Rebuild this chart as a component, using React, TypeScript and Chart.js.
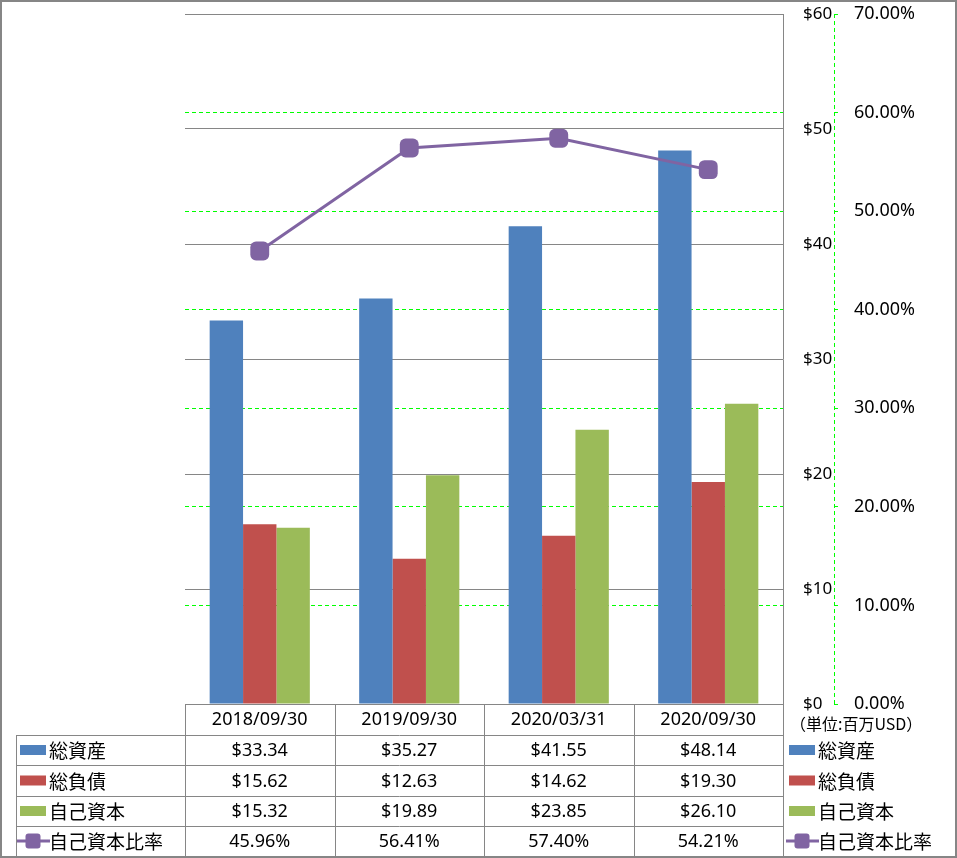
import React, { useEffect, useRef } from "react";
import { Chart, registerables } from "chart.js";

Chart.register(...registerables);

const categories = ["2018/09/30", "2019/09/30", "2020/03/31", "2020/09/30"];
const totalAssets = [33.34, 35.27, 41.55, 48.14];
const totalLiabilities = [15.62, 12.63, 14.62, 19.3];
const equity = [15.32, 19.89, 23.85, 26.1];
const equityRatio = [45.96, 56.41, 57.4, 54.21];
const seriesNames = ["総資産", "総負債", "自己資本", "自己資本比率"];
const unitLabel = "（単位:百万USD）";

const BLUE = "#4F81BD";
const RED = "#C0504D";
const GREEN = "#9BBB59";
const PURPLE = "#8064A2";
const GRID = "#868686";
const LIME = "#00FF00";
const NUM_FAMILY = '"Noto Sans", "Open Sans", sans-serif';
const NUM_FONT = '18px ' + NUM_FAMILY;
const JP_FONT = '19px "Noto Sans CJK JP", sans-serif';

function drawSymbol(ctx: CanvasRenderingContext2D, kind: number, x: number, y: number, w: number) {
  const colors = [BLUE, RED, GREEN, PURPLE];
  ctx.save();
  if (kind < 3) {
    ctx.fillStyle = colors[kind];
    ctx.fillRect(x, y - 5, w, 10);
  } else {
    ctx.strokeStyle = PURPLE;
    ctx.lineWidth = 3;
    ctx.beginPath();
    ctx.moveTo(x - 3, y);
    ctx.lineTo(x + w + 4, y);
    ctx.stroke();
    ctx.fillStyle = PURPLE;
    const s = 15;
    const cx = x + w / 2;
    ctx.beginPath();
    (ctx as any).roundRect(cx - s / 2, y - s / 2, s, s, 3);
    ctx.fill();
  }
  ctx.restore();
}

const tablePlugin = {
  id: "tablePlugin",
  afterDraw(chart: any) {
    const ctx: CanvasRenderingContext2D = chart.ctx;
    const area = chart.chartArea;
    const xs = chart.scales.x;
    const n = categories.length;
    const colW = (area.right - area.left) / n;
    const rows = [area.bottom, 735, 765, 796, 826, 856];
    const tableLeft = 16;

    ctx.save();
    const y2 = chart.scales.y2;
    ctx.strokeStyle = LIME;
    ctx.lineWidth = 1;
    ctx.setLineDash([4, 3]);
    ctx.beginPath();
    ctx.moveTo(y2.left + 0.5, area.top);
    ctx.lineTo(y2.left + 0.5, area.bottom);
    ctx.stroke();
    ctx.setLineDash([]);

    ctx.strokeStyle = GRID;
    ctx.lineWidth = 1;
    ctx.beginPath();
    ctx.moveTo(area.left, rows[0] + 0.5);
    ctx.lineTo(area.right, rows[0] + 0.5);
    for (let r = 1; r < rows.length; r++) {
      ctx.moveTo(tableLeft, rows[r] + 0.5);
      ctx.lineTo(area.right, rows[r] + 0.5);
    }
    ctx.moveTo(tableLeft + 0.5, rows[1]);
    ctx.lineTo(tableLeft + 0.5, rows[rows.length - 1]);
    for (let c = 0; c <= n; c++) {
      const x = Math.round(area.left + c * colW) + 0.5;
      ctx.moveTo(x, rows[0]);
      ctx.lineTo(x, rows[rows.length - 1]);
    }
    ctx.stroke();

    ctx.fillStyle = "#000";
    ctx.textAlign = "center";
    ctx.textBaseline = "middle";
    ctx.font = NUM_FONT;
    categories.forEach((c, i) => {
      ctx.fillText(c, xs.getPixelForValue(i), (rows[0] + rows[1]) / 2);
    });

    const rowsData = [totalAssets, totalLiabilities, equity, equityRatio];
    rowsData.forEach((arr, r) => {
      const cy = (rows[r + 1] + rows[r + 2]) / 2;
      ctx.font = NUM_FONT;
      ctx.textAlign = "center";
      ctx.fillStyle = "#000";
      arr.forEach((v, i) => {
        const txt = r < 3 ? "$" + v.toFixed(2) : v.toFixed(2) + "%";
        ctx.fillText(txt, xs.getPixelForValue(i), cy + 1);
      });
      drawSymbol(ctx, r, 20, cy, 26);
      ctx.font = JP_FONT;
      ctx.textAlign = "left";
      ctx.fillStyle = "#000";
      ctx.fillText(seriesNames[r], 49, cy + 1);
      drawSymbol(ctx, r, 789, cy, 26);
      ctx.font = JP_FONT;
      ctx.fillStyle = "#000";
      ctx.fillText(seriesNames[r], 818, cy + 1);
    });

    ctx.font = '16px "Noto Sans CJK JP", sans-serif';
    ctx.textAlign = "left";
    ctx.fillText(unitLabel, 790, 724);

    ctx.strokeStyle = GRID;
    ctx.lineWidth = 2;
    ctx.strokeRect(1, 1, chart.width - 2, chart.height - 2);
    ctx.restore();
  },
};

export default function App() {
  const ref = useRef<HTMLCanvasElement>(null);
  useEffect(() => {
    if (!ref.current) return;
    const chart = new Chart(ref.current, {
      type: "bar",
      data: {
        labels: categories,
        datasets: [
          {
            type: "line",
            label: seriesNames[3],
            data: equityRatio,
            yAxisID: "y2",
            borderColor: PURPLE,
            backgroundColor: PURPLE,
            borderWidth: 3,
            pointStyle: "rectRounded",
            pointRadius: 11,
            pointBackgroundColor: PURPLE,
            pointBorderColor: PURPLE,
            pointBorderWidth: 0,
            order: 0,
          } as any,
          { label: seriesNames[0], data: totalAssets, backgroundColor: BLUE, yAxisID: "y", order: 1 },
          { label: seriesNames[1], data: totalLiabilities, backgroundColor: RED, yAxisID: "y", order: 1 },
          { label: seriesNames[2], data: equity, backgroundColor: GREEN, yAxisID: "y", order: 1 },
        ],
      },
      options: {
        animation: false,
        responsive: false,
        maintainAspectRatio: false,
        layout: { padding: { left: 185, top: 14, right: 0, bottom: 154 } },
        datasets: { bar: { categoryPercentage: 0.67, barPercentage: 1 } } as any,
        plugins: { legend: { display: false }, tooltip: { enabled: false } },
        scales: {
          x: { display: false },
          y: {
            position: "right",
            min: 0,
            max: 60,
            ticks: {
              stepSize: 10,
              padding: 20,
              crossAlign: "near",
              color: "#000",
              font: { family: NUM_FAMILY, size: 17 },
              callback: (v: any) => "$" + v,
            },
            grid: { color: GRID, lineWidth: 1, drawTicks: false },
            border: { display: true, color: GRID, width: 1 },
            afterFit: (s: any) => {
              s.width = 51;
              s.paddingTop = 0;
              s.paddingBottom = 0;
            },
          },
          y2: {
            position: "right",
            min: 0,
            max: 70,
            ticks: {
              stepSize: 10,
              padding: 16,
              color: "#000",
              font: { family: NUM_FAMILY, size: 18 },
              callback: (v: any) => Number(v).toFixed(2) + "%",
            },
            grid: {
              color: (c: any) => (c.tick && (c.tick.value === 0 || c.tick.value === 70) ? "rgba(0,0,0,0)" : LIME),
              tickColor: LIME,
              tickLength: 4,
              lineWidth: 1,
            },
            border: { display: false, dash: [4, 3] },
            afterFit: (s: any) => {
              s.width = 123;
              s.paddingTop = 0;
              s.paddingBottom = 0;
            },
          },
        },
      },
      plugins: [tablePlugin],
    });
    return () => chart.destroy();
  }, []);
  return (
    <div style={{ position: "absolute", left: 0, top: 0, width: 957, height: 858, background: "#fff" }}>
      <canvas ref={ref} width={957} height={858} style={{ display: "block" }} />
    </div>
  );
}
